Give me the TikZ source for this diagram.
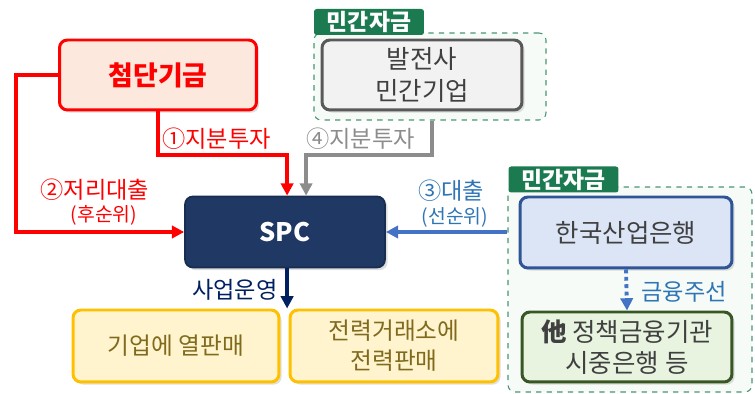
\documentclass[tikz,border=0pt]{standalone}
\usepackage{fontspec}
\setmainfont{Noto Sans CJK KR}
\usepackage{xcolor}
\usetikzlibrary{positioning,calc,arrows.meta,shadows}

\definecolor{fundred}{HTML}{FF0000}
\definecolor{fundfill}{HTML}{FCE8DC}
\definecolor{genfill}{HTML}{F2F2F2}
\definecolor{gengray}{HTML}{595959}
\definecolor{argray}{HTML}{8C8C8C}
\definecolor{spcnavy}{HTML}{1F3864}
\definecolor{opnavy}{HTML}{002060}
\definecolor{loanblue}{HTML}{4472C4}
\definecolor{labblue}{HTML}{2E75B6}
\definecolor{kdbfill}{HTML}{DCE5F5}
\definecolor{kdbline}{HTML}{2F5597}
\definecolor{bankfill}{HTML}{E8F3E0}
\definecolor{bankline}{HTML}{385723}
\definecolor{tabgreen}{HTML}{1B7A50}
\definecolor{privfill}{HTML}{F6FBF8}
\definecolor{salefill}{HTML}{FFF4CE}
\definecolor{saleline}{HTML}{FFC000}
\definecolor{saletext}{HTML}{7F6A1E}
\definecolor{boxtext}{HTML}{404040}

\begin{document}
\begin{tikzpicture}[x=0.02cm, y=-0.02cm,
    >={Triangle[length=7pt,width=7pt]},
    box/.style={rounded corners=4.5pt, line width=1.7pt, align=center, inner sep=0pt,
        drop shadow={opacity=0.25, shadow xshift=1.5pt, shadow yshift=-1.5pt},
        font=\fontsize{14.5}{18}\selectfont, text=boxtext},
    privbox/.style={draw=tabgreen!80, dashed, fill=privfill, rounded corners=4pt, line width=0.6pt},
    tab/.style={fill=tabgreen, text=white, rounded corners=1.5pt, inner sep=0pt,
        minimum width=2.2cm, minimum height=0.52cm, font=\fontsize{13}{15}\selectfont\bfseries},
    lab/.style={font=\fontsize{13.2}{15}\selectfont, inner sep=0pt},
    sublab/.style={font=\fontsize{11}{13}\selectfont, inner sep=0pt},
    flow/.style={line width=2.2pt}]

    \useasboundingbox (0,0) rectangle (755,394);

    % Private funding groups
    \node [privbox, minimum width=4.64cm, minimum height=1.74cm] (privA) at (430,76.5) {};
    \node [tab] (tabA) at (369,22) {민간자금};
    \node [privbox, minimum width=4.88cm, minimum height=4.1cm] (privB) at (630,289.5) {};
    \node [tab] (tabB) at (563.5,179.5) {민간자금};

    % Fund and investors
    \node [box, draw=fundred, fill=fundfill, text=fundred, minimum width=3.94cm, minimum height=1.4cm,
        font=\fontsize{15.3}{18}\selectfont\bfseries] (fund) at (158,75) {첨단기금};
    \node [box, draw=gengray, fill=genfill, minimum width=4cm, minimum height=1.4cm] (gen) at (422,75) {발전사\\민간기업};

    % SPC
    \node [box, draw=spcnavy!80!black, fill=spcnavy, text=white, line width=1pt, minimum width=4cm, minimum height=1.42cm,
        font=\fontsize{14.5}{18}\selectfont\bfseries] (spc) at (285,232) {SPC};

    % Banks
    \node [box, draw=kdbline, fill=kdbfill, minimum width=4.24cm, minimum height=1.42cm] (kdb) at (626,232.5) {한국산업은행};
    \node [box, draw=bankline, fill=bankfill, minimum width=4.2cm, minimum height=1.4cm] (bank) at (627,347) {\textbf{他} 정책금융기관\\시중은행 등};

    % Sales
    \node [box, draw=saleline, fill=salefill, text=saletext, minimum width=4.12cm, minimum height=1.44cm,
        font=\fontsize{13.5}{17}\selectfont] (heat) at (176,346) {기업에 열판매};
    \node [box, draw=saleline, fill=salefill, text=saletext, minimum width=4.16cm, minimum height=1.44cm,
        font=\fontsize{13.5}{17}\selectfont] (power) at (394,346) {전력거래소에\\전력판매};

    % (1) equity
    \draw [->, flow, fundred] (fund.south) -- (fund.south |- 0,155) -| ([xshift=1.2pt]spc.north);
    \node [lab, fundred, anchor=west] (eqA) at (162,139) {①지분투자};

    % (2) soft loan
    \draw [->, flow, fundred] (fund.west) -- ++(-42,0) |- (spc.west);
    \node [lab, fundred] (loanA) at (95,190) {②저리대출};
    \node [sublab, fundred] (loanAsub) at (104,215) {(후순위)};

    % (4) equity
    \draw [->, flow, argray] (privA.south -| 432,0) -- (432,155) -| ([xshift=12pt]spc.north);
    \node [lab, argray, anchor=west] (eqB) at (306,139) {④지분투자};

    % (3) senior loan
    \draw [->, line width=1.8pt, loanblue] (spc.east -| privB.west) -- (spc.east);
    \node [lab, labblue] (loanB) at (451,191) {③대출};
    \node [sublab, labblue] (loanBsub) at (455,217) {(선순위)};

    % Operation
    \draw [->, flow, opnavy] ([xshift=1.2pt]spc.south) -- ([xshift=1.2pt]spc.south |- heat.north);
    \node [lab, opnavy, anchor=east] (oper) at (278,290) {사업운영};

    % Arrangement
    \draw [->, line width=2.2pt, loanblue, dotted] (kdb.south) -- (bank.north);
    \node [lab, labblue, anchor=west] (arr) at (641,292) {금융주선};
\end{tikzpicture}
\end{document}
